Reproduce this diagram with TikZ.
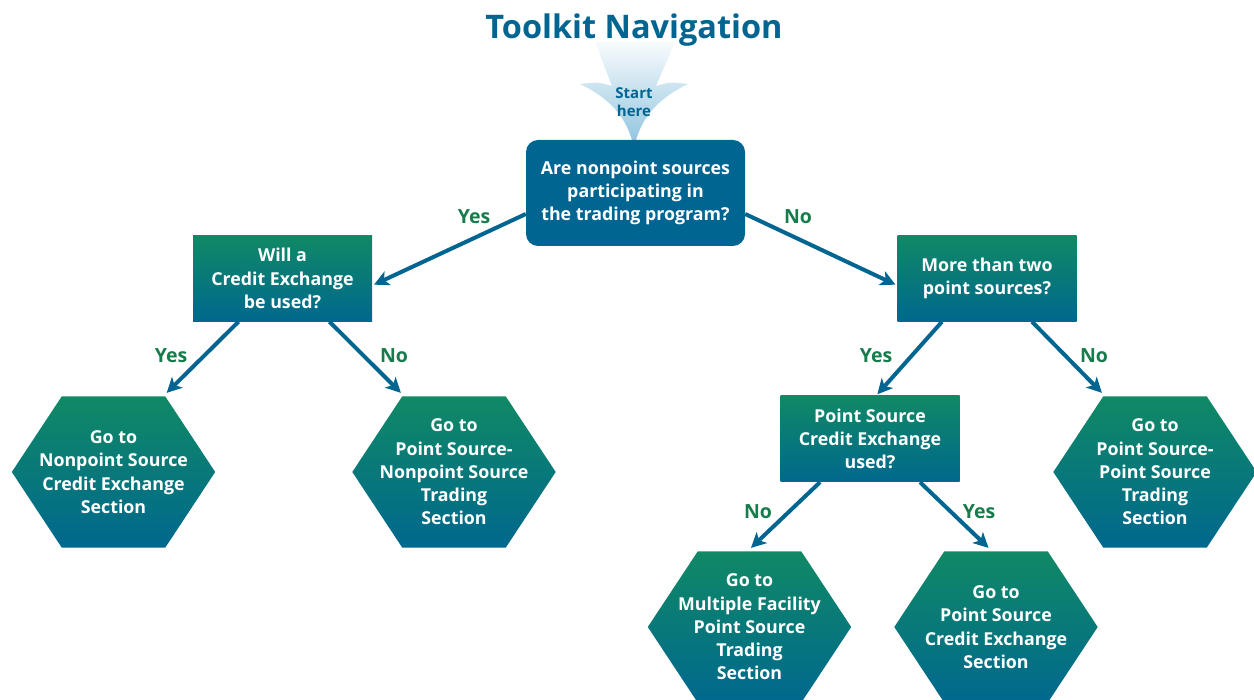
\documentclass[tikz,border=0pt]{standalone}
\usepackage{fontspec}
\setmainfont{Open Sans}
\usetikzlibrary{arrows.meta,backgrounds,calc}
\definecolor{blueD}{RGB}{0,102,145}
\definecolor{gTop}{RGB}{16,137,101}
\definecolor{gMid}{RGB}{45,138,122}
\definecolor{bBot}{RGB}{0,104,142}
\definecolor{labG}{RGB}{22,124,76}
\definecolor{startTop}{RGB}{248,251,253}
\definecolor{startBot}{RGB}{140,194,222}
\tikzset{
  txt/.style={text=white, font=\bfseries\fontsize{17.8}{23.3}\selectfont, align=center},
  qbox/.style={txt, rectangle, minimum width=179pt, minimum height=86pt, inner sep=0pt,
     top color=gTop, middle color=gMid, bottom color=bBot},
  rootbox/.style={txt, rectangle, rounded corners=12pt, fill=blueD, minimum width=219pt, minimum height=106pt, inner sep=0pt},
  hexnode/.style={txt, rectangle, minimum width=203pt, minimum height=151pt, inner sep=0pt},
  hexshade/.style={top color=gTop, middle color=gMid, bottom color=bBot},
  arr/.style={draw=blueD, line width=4pt, -{Stealth[length=15pt,width=15pt,inset=4pt]}, shorten >=2pt},
  lab/.style={text=labG, font=\bfseries\fontsize{19.5}{22}\selectfont},
}
\begin{document}
\begin{tikzpicture}[x=1pt,y=-1pt]
\useasboundingbox (0,0) rectangle (1254,700);
% title
\node[text=blueD, font=\bfseries\fontsize{32.5}{36}\selectfont] (title) at (634,30) {Toolkit Navigation};
% start arrow
\shade[top color=startTop, bottom color=startBot]
  (595,42) -- (675,42) -- (656,86) .. controls (670,82) .. (688,84)
  .. controls (655,100) and (640,120) .. (634,148)
  .. controls (628,120) and (613,100) .. (580,84)
  .. controls (598,82) .. (612,86) -- cycle;
\node[text=blueD, font=\bfseries\fontsize{15}{18}\selectfont, align=center] (start) at (634,102) {Start\\here};
% nodes
\node[rootbox] (root) at (635.5,193) {Are nonpoint sources\\participating in\\the trading program?};
\node[qbox] (q1) at (282.5,278.5) {Will a\\Credit Exchange\\be used?};
\node[qbox] (q2) at (987,278.5) {More than two\\point sources?};
\node[qbox] (m) at (870,439) {Point Source\\Credit Exchange\\used?};
\node[hexnode] (h1) at (113.5,472) {Go to\\Nonpoint Source\\Credit Exchange\\Section};
\node[hexnode] (h2) at (454,472) {Go to\\Point Source-\\Nonpoint Source\\Trading\\Section};
\node[hexnode] (h3) at (1155,472) {Go to\\Point Source-\\Point Source\\Trading\\Section};
\node[hexnode] (h4) at (749.5,627) {Go to\\Multiple Facility\\Point Source\\Trading\\Section};
\node[hexnode] (h5) at (996,627) {Go to\\Point Source\\Credit Exchange\\Section};
\begin{pgfonlayer}{background}
\foreach \n in {h1,h2,h3,h4,h5}{
  \shade[hexshade] (\n.west) -- ([xshift=50pt]\n.north west) -- ([xshift=-50pt]\n.north east)
    -- (\n.east) -- ([xshift=-50pt]\n.south east) -- ([xshift=50pt]\n.south west) -- cycle;
}
\end{pgfonlayer}
% connectors
\draw[arr] ([yshift=-21pt]root.west) -- ([yshift=-7pt]q1.east);
\draw[arr] ([yshift=-21pt]root.east) -- ([yshift=-7pt]q2.west);
\draw[arr] ([xshift=-44pt]q1.south) -- ([xshift=-50pt,yshift=2pt]h1.north east);
\draw[arr] ([xshift=47pt]q1.south) -- ([xshift=50pt,yshift=2pt]h2.north west);
\draw[arr] ([xshift=-45pt]q2.south) -- ([xshift=6pt]m.north);
\draw[arr] ([xshift=45pt]q2.south) -- ([xshift=50pt,yshift=2pt]h3.north west);
\draw[arr] ([xshift=-50pt]m.south) -- ([yshift=2pt]h4.north);
\draw[arr] ([xshift=50pt]m.south) -- ([xshift=-6pt,yshift=2pt]h5.north);
% labels
\node[lab] (l1) at (474,217) {Yes};
\node[lab] (l2) at (798,217) {No};
\node[lab] (l3) at (171,356) {Yes};
\node[lab] (l4) at (394,356) {No};
\node[lab] (l5) at (876,356) {Yes};
\node[lab] (l6) at (1094,356) {No};
\node[lab] (l7) at (758,512) {No};
\node[lab] (l8) at (979,512) {Yes};
\end{tikzpicture}
\end{document}
